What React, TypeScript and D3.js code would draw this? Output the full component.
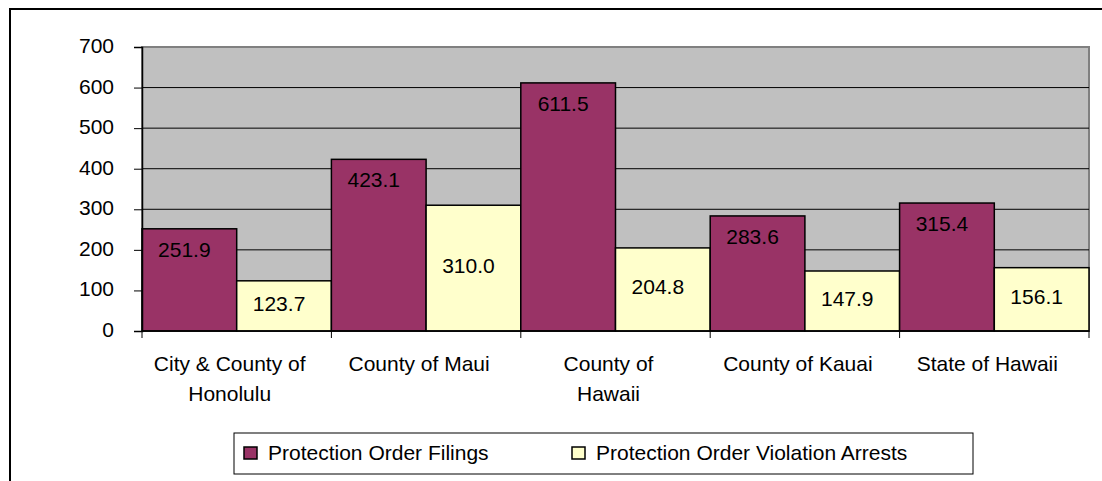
import React, { useRef, useEffect } from "react";
import * as d3 from "d3";

const categories = [
  "City & County of Honolulu",
  "County of Maui",
  "County of Hawaii",
  "County of Kauai",
  "State of Hawaii",
];
const categoryLines = [
  ["City & County of", "Honolulu"],
  ["County of Maui"],
  ["County of", "Hawaii"],
  ["County of Kauai"],
  ["State of Hawaii"],
];
const seriesNames = ["Protection Order Filings", "Protection Order Violation Arrests"];
const filings = [251.9, 423.1, 611.5, 283.6, 315.4];
const arrests = [123.7, 310.0, 204.8, 147.9, 156.1];
const yTicks = [0, 100, 200, 300, 400, 500, 600, 700];

const colors = ["#993366", "#FFFFCC"];
const FONT = "'Liberation Sans', Arial, sans-serif";

const App = () => {
  const svgRef = useRef(null);

  useEffect(() => {
    const svg = d3.select(svgRef.current);
    svg.selectAll("*").remove();

    const left = 142;
    const right = 1089;
    const top = 47;
    const bottom = 331;

    const x0 = d3.scaleBand().domain(categories).range([left, right]).padding(0);
    const x1 = d3.scaleBand().domain(seriesNames).range([0, x0.bandwidth()]).padding(0);
    const y = d3.scaleLinear().domain([0, 700]).range([bottom, top]);

    // outer chart border (runs off the page right/bottom)
    svg
      .append("rect")
      .attr("x", 10)
      .attr("y", 9)
      .attr("width", 1300)
      .attr("height", 700)
      .attr("fill", "white")
      .attr("stroke", "black")
      .attr("stroke-width", 2);

    // plot area
    svg
      .append("rect")
      .attr("x", left)
      .attr("y", top)
      .attr("width", right - left)
      .attr("height", bottom - top)
      .attr("fill", "#C0C0C0")
      .attr("stroke", "#808080")
      .attr("stroke-width", 2);

    // gridlines
    svg
      .append("g")
      .selectAll("line")
      .data(yTicks.filter((t) => t > 0 && t < 700))
      .enter()
      .append("line")
      .attr("x1", left)
      .attr("x2", right)
      .attr("y1", (d) => y(d))
      .attr("y2", (d) => y(d))
      .attr("stroke", "#000")
      .attr("stroke-width", 1);

    const data = categories.map((c, i) => ({
      cat: c,
      vals: [
        { s: seriesNames[0], v: filings[i], k: 0 },
        { s: seriesNames[1], v: arrests[i], k: 1 },
      ],
    }));

    const groups = svg
      .append("g")
      .selectAll("g")
      .data(data)
      .enter()
      .append("g")
      .attr("transform", (d) => `translate(${x0(d.cat)},0)`);

    groups
      .selectAll("rect")
      .data((d) => d.vals)
      .enter()
      .append("rect")
      .attr("x", (d) => x1(d.s))
      .attr("y", (d) => y(d.v))
      .attr("width", x1.bandwidth())
      .attr("height", (d) => bottom - y(d.v))
      .attr("fill", (d) => colors[d.k])
      .attr("stroke", "black")
      .attr("stroke-width", 1.5);

    groups
      .selectAll("text")
      .data((d) => d.vals)
      .enter()
      .append("text")
      .attr("x", (d) => x1(d.s) + x1.bandwidth() / 2 - 5)
      .attr("y", (d) =>
        d.k === 0 ? y(d.v) + 28 : (y(d.v) + bottom) / 2 + 5
      )
      .attr("text-anchor", "middle")
      .style("font-family", FONT)
      .style("font-size", "21px")
      .attr("fill", "black")
      .text((d) => d3.format(".1f")(d.v));

    // y axis
    const yAxis = svg
      .append("g")
      .attr("transform", `translate(${left},0)`)
      .call(d3.axisLeft(y).tickValues(yTicks).tickSize(8).tickPadding(20));
    yAxis.select(".domain").attr("stroke", "black").attr("stroke-width", 1.5);
    yAxis.selectAll(".tick line").attr("stroke", "black");
    yAxis
      .selectAll(".tick text")
      .attr("dy", "5.5")
      .attr("fill", "black")
      .style("font-family", FONT)
      .style("font-size", "21px");

    // x axis
    svg
      .append("line")
      .attr("x1", left)
      .attr("x2", right)
      .attr("y1", bottom)
      .attr("y2", bottom)
      .attr("stroke", "black")
      .attr("stroke-width", 1.5);

    const bounds = categories.map((c) => x0(c)).concat([right]);
    svg
      .append("g")
      .selectAll("line")
      .data(bounds)
      .enter()
      .append("line")
      .attr("x1", (d) => d)
      .attr("x2", (d) => d)
      .attr("y1", bottom)
      .attr("y2", bottom + 7)
      .attr("stroke", "black");

    const catLabels = svg
      .append("g")
      .selectAll("text")
      .data(categories)
      .enter()
      .append("text")
      .attr("text-anchor", "middle")
      .style("font-family", FONT)
      .style("font-size", "21px")
      .attr("fill", "black");
    catLabels
      .selectAll("tspan")
      .data((d, i) => categoryLines[i].map((l) => ({ l, c: d })))
      .enter()
      .append("tspan")
      .attr("x", (d) => x0(d.c) + x0.bandwidth() / 2 - 7)
      .attr("y", (d, j) => bottom + 40 + j * 30)
      .text((d) => d.l);

    // legend
    const lg = svg.append("g").attr("transform", "translate(234,433)");
    lg.append("rect")
      .attr("width", 739)
      .attr("height", 41)
      .attr("fill", "white")
      .attr("stroke", "black")
      .attr("stroke-width", 1);
    const items = lg
      .selectAll("g")
      .data(seriesNames)
      .enter()
      .append("g")
      .attr("transform", (d, i) => `translate(${i === 0 ? 10 : 338},0)`);
    items
      .append("rect")
      .attr("x", 0)
      .attr("y", 14)
      .attr("width", 13)
      .attr("height", 12)
      .attr("fill", (d, i) => colors[i])
      .attr("stroke", "black")
      .attr("stroke-width", 1.5);
    items
      .append("text")
      .attr("x", 24)
      .attr("y", 27)
      .style("font-family", FONT)
      .style("font-size", "21px")
      .attr("fill", "black")
      .text((d) => d);
  }, []);

  return (
    <div style={{ position: "absolute", left: 0, top: 0 }}>
      <svg ref={svgRef} width={1102} height={481} style={{ display: "block" }}></svg>
    </div>
  );
};

export default App;
